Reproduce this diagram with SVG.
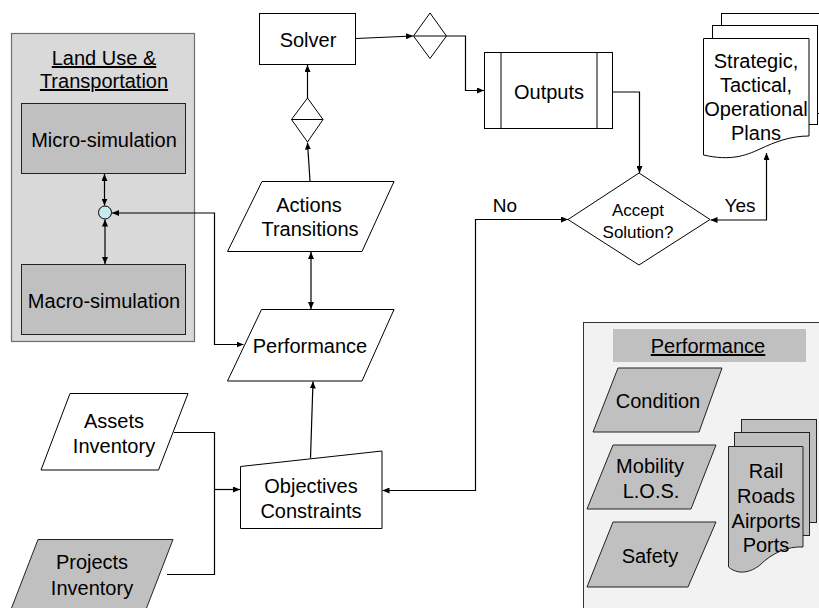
<svg xmlns="http://www.w3.org/2000/svg" width="819" height="608" viewBox="0 0 819 608">
  <defs>
    <marker id="arrow" viewBox="0 0 7 6" refX="7" refY="3" markerWidth="7" markerHeight="6" markerUnits="userSpaceOnUse" orient="auto-start-reverse">
      <path d="M0,0 L7,3 L0,6 z" fill="#000"/>
    </marker>
  </defs>
  <style>
    text { font-family: "Liberation Sans", Arial, sans-serif; font-size: 20px; fill: #000; text-anchor: middle; }
    .small { font-size: 17px; }
    .label { font-size: 19px; }
    .u { text-decoration: underline; }
    .shape { fill: #fff; stroke: #000; stroke-width: 1; }
    .gray { fill: #c0c0c0; stroke: #222; stroke-width: 1; }
    .conn { fill: none; stroke: #000; stroke-width: 1.2; }
    .both { marker-start: url(#arrow); marker-end: url(#arrow); }
    .end { marker-end: url(#arrow); }
  </style>

  <!-- Land use & transportation panel -->
  <g id="land-use">
    <rect x="11.5" y="33.5" width="183" height="308" fill="#d9d9d9" stroke="#6e6e6e" stroke-width="1.2"/>
    <text x="104" y="65" class="u">Land Use &amp;</text>
    <text x="104" y="88" class="u">Transportation</text>
  </g>
  <g id="micro-simulation">
    <rect x="21.5" y="103.5" width="164" height="70" class="gray"/>
    <text x="104" y="147">Micro-simulation</text>
  </g>
  <g id="macro-simulation">
    <rect x="21.5" y="264.5" width="164" height="70" class="gray"/>
    <text x="104" y="308">Macro-simulation</text>
  </g>
  <g id="junction">
    <circle cx="105" cy="212.5" r="6.5" fill="#c4e9ee" stroke="#000" stroke-width="1"/>
  </g>

  <!-- Main flow -->
  <g id="solver">
    <rect x="259.5" y="13.5" width="96" height="51" class="shape"/>
    <text x="308" y="47">Solver</text>
  </g>
  <g id="merge-top">
    <path d="M430,13 L446.5,36 L430,58.5 L413.5,36 Z M413.5,36 H446.5" class="shape"/>
  </g>
  <g id="merge-mid">
    <path d="M307.5,98 L323,119.5 L307.5,142 L291.5,119.5 Z M291.5,119.5 H323" class="shape"/>
  </g>
  <g id="outputs">
    <rect x="484.5" y="52.5" width="128" height="76" class="shape"/>
    <path d="M501,52.5 V128.5 M597,52.5 V128.5" stroke="#000" stroke-width="1" fill="none"/>
    <text x="549" y="99">Outputs</text>
  </g>
  <g id="plans">
    <rect x="721.5" y="13.5" width="110" height="100" class="shape"/>
    <rect x="712.5" y="25.5" width="105" height="99" class="shape"/>
    <path d="M703.5,38.5 H809 V136 C 790,136 775,142 760,149 C 745,156 730,161 703.5,155 Z" class="shape"/>
    <text x="756" y="68">Strategic,</text>
    <text x="756" y="92">Tactical,</text>
    <text x="756" y="116">Operational</text>
    <text x="756" y="140">Plans</text>
  </g>
  <g id="accept">
    <path d="M639,173 L710,219.5 L639,265 L568,219.5 Z" class="shape"/>
    <text x="638" y="216" class="small">Accept</text>
    <text x="638" y="238" class="small">Solution?</text>
  </g>
  <g id="actions">
    <path d="M262,181.5 H394 L362,251.5 H227.5 Z" class="shape"/>
    <text x="309" y="212">Actions</text>
    <text x="310" y="236">Transitions</text>
  </g>
  <g id="performance">
    <path d="M261.5,309.5 H394 L362,381 H227.5 Z" class="shape"/>
    <text x="310" y="353">Performance</text>
  </g>
  <g id="objectives">
    <path d="M240.5,466.5 L382,451 V528.5 H240.5 Z" class="shape"/>
    <text x="311" y="493">Objectives</text>
    <text x="311" y="518">Constraints</text>
  </g>
  <g id="assets">
    <path d="M70,393.5 H188 L158.5,470 H41 Z" class="shape"/>
    <text x="114" y="428">Assets</text>
    <text x="114" y="453">Inventory</text>
  </g>
  <g id="projects">
    <path d="M38,539.5 H173 L145,612 H10 Z" class="gray"/>
    <text x="92" y="569">Projects</text>
    <text x="92" y="595">Inventory</text>
  </g>

  <!-- Performance measures panel -->
  <g id="performance-panel">
    <rect x="583.5" y="322.5" width="250" height="300" fill="#f2f2f2" stroke="#333" stroke-width="1"/>
    <rect x="613" y="329" width="193" height="33" fill="#c0c0c0"/>
    <text x="708" y="353" class="u">Performance</text>
  </g>
  <g id="condition">
    <path d="M618,368 H722 L699,432 H593 Z" class="gray"/>
    <text x="658" y="408">Condition</text>
  </g>
  <g id="mobility">
    <path d="M613,445 H716 L691,509 H587 Z" class="gray"/>
    <text x="650" y="473">Mobility</text>
    <text x="651" y="498">L.O.S.</text>
  </g>
  <g id="safety">
    <path d="M613,522 H716 L688,587 H587 Z" class="gray"/>
    <text x="650" y="563">Safety</text>
  </g>
  <g id="modes">
    <rect x="741.5" y="419.5" width="75" height="103" class="gray"/>
    <rect x="734.5" y="432.5" width="75" height="103" class="gray"/>
    <path d="M728.5,446.5 H803 V547 C 788,546 772,553 760,565 C 750,573 738,575 728.5,567 Z" class="gray"/>
    <text x="766" y="478">Rail</text>
    <text x="766" y="503">Roads</text>
    <text x="766" y="528">Airports</text>
    <text x="766" y="552">Ports</text>
  </g>

  <!-- Connectors -->
  <g id="connectors">
    <path d="M104.5,174 V205.5" class="conn both"/>
    <path d="M105,219.5 V264" class="conn both"/>
    <path d="M112,213 H214.5 V344.5 H243.5" class="conn both"/>
    <path d="M311,252 V309" class="conn both"/>
    <path d="M310,181 L307.5,142.5" class="conn end"/>
    <path d="M307.5,98 V65" class="conn end"/>
    <path d="M356,38.5 L413,36" class="conn end"/>
    <path d="M446.5,36 H465.5 V90.5 H484" class="conn end"/>
    <path d="M613,92 H639.5 V173" class="conn end"/>
    <path d="M710.5,220 H766.5 V153" class="conn both"/>
    <path d="M568,219.5 H475.5 V490.5 H382.5" class="conn both"/>
    <path d="M310.5,458 L313,381.5" class="conn end"/>
    <path d="M174,432.5 H214.5 V574.5 H167" class="conn"/>
    <path d="M214.5,489.5 H240" class="conn end"/>
  </g>

  <!-- Branch labels -->
  <g id="labels">
    <text x="505" y="212" class="label">No</text>
    <text x="740" y="212" class="label">Yes</text>
  </g>
</svg>
